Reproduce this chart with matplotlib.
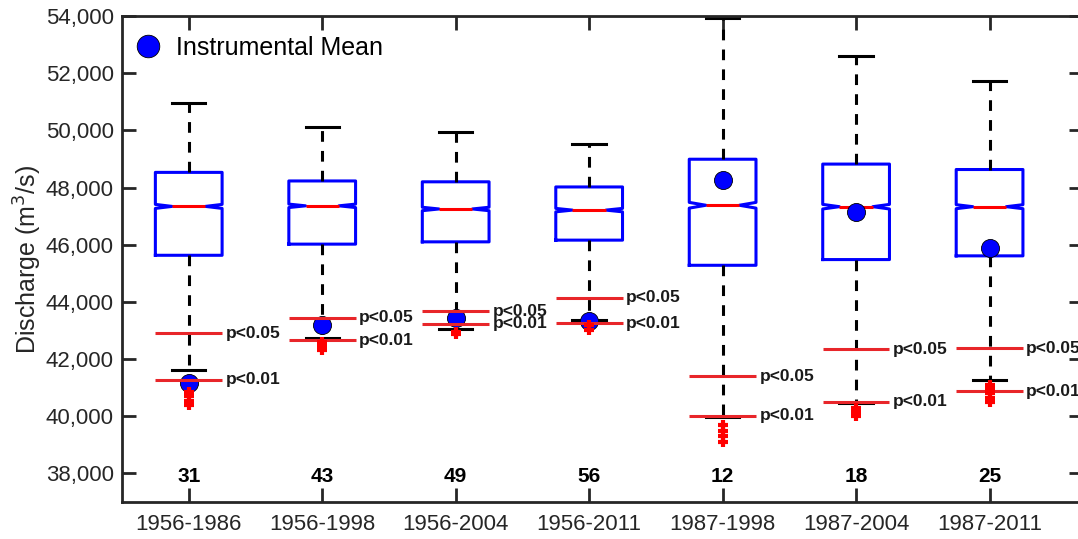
import matplotlib
matplotlib.use("Agg")
import matplotlib.pyplot as plt
from matplotlib.ticker import FuncFormatter

plt.rcParams['font.family'] = ['Liberation Sans', 'DejaVu Sans']

periods = ["1956-1986", "1956-1998", "1956-2004", "1956-2011",
           "1987-1998", "1987-2004", "1987-2011"]
n_years = [31, 43, 49, 56, 12, 18, 25]

whislo = [41600, 42720, 43040, 43380, 39970, 40450, 41280]
q1 = [45630, 46020, 46100, 46160, 45280, 45480, 45610]
med = [47340, 47360, 47250, 47210, 47380, 47330, 47330]
q3 = [48530, 48230, 48200, 48020, 48990, 48820, 48630]
whishi = [50950, 50100, 49930, 49520, 53930, 52600, 51720]
notch_half = [70, 60, 60, 60, 100, 80, 70]
fliers = [
    [40850, 40700, 40550, 40400],
    [42600, 42450, 42300],
    [42950, 42870],
    [43180, 43020],
    [39700, 39500, 39300, 39100],
    [40300, 40150, 40000],
    [41100, 40950, 40800, 40650, 40500],
]
inst_mean = [41170, 43180, 43420, 43330, 48260, 47150, 45900]
p05 = [42910, 43440, 43670, 44150, 41400, 42340, 42370]
p01 = [41280, 42660, 43240, 43260, 40020, 40500, 40870]

fig = plt.figure(figsize=(10.78, 5.39), dpi=100)
ax = fig.add_axes([122/1078, 37/539, 961/1078, 486/539])

positions = list(range(1, len(periods) + 1))
stats = []
for i in range(len(periods)):
    stats.append(dict(med=med[i], q1=q1[i], q3=q3[i], whislo=whislo[i],
                      whishi=whishi[i], cilo=med[i] - notch_half[i],
                      cihi=med[i] + notch_half[i], fliers=fliers[i],
                      mean=inst_mean[i], label=periods[i]))

ax.bxp(stats, positions=positions, widths=0.5, shownotches=True, showfliers=False,
       boxprops=dict(color='blue', linewidth=2.2),
       medianprops=dict(color='red', linewidth=2.2),
       whiskerprops=dict(color='black', linewidth=2.2, linestyle=(0, (3.5, 3))),
       capprops=dict(color='black', linewidth=2.2))

ax.plot(positions, inst_mean, linestyle='none', marker='o', markersize=13,
        markerfacecolor='blue', markeredgecolor='black', markeredgewidth=0.6,
        label='Instrumental Mean', zorder=3)

for i, x in enumerate(positions):
    ax.hlines(p05[i], x - 0.25, x + 0.25, color='#e8262a', linewidth=2.2, zorder=4)
    ax.hlines(p01[i], x - 0.25, x + 0.25, color='#e8262a', linewidth=2.2, zorder=4)
    ax.text(x + 0.275, p05[i], "p<0.05", fontsize=12.5, fontweight='bold',
            va='center', ha='left', color='#1a1a1a', zorder=5)
    ax.text(x + 0.275, p01[i], "p<0.01", fontsize=12.5, fontweight='bold',
            va='center', ha='left', color='#1a1a1a', zorder=5)
    ax.text(x, 37880, str(n_years[i]), fontsize=15, fontweight='bold',
            ha='center', va='center', color='black')

for i, x in enumerate(positions):
    ax.plot([x] * len(fliers[i]), fliers[i], linestyle='none', marker='+',
            markeredgecolor='red', markersize=7, markeredgewidth=3, zorder=6)

ax.set_xlim(0.5, 7.7)
ax.set_ylim(37000, 54000)
ax.set_xticks(positions)
ax.set_xticklabels(periods)
ax.set_yticks(range(38000, 54001, 2000))
ax.yaxis.set_major_formatter(FuncFormatter(lambda v, p: f"{int(v):,}"))
ax.tick_params(direction='in', length=10, width=2, colors='#262626',
               labelsize=16, top=True, right=True, labelcolor='#262626')
ax.tick_params(axis='x', pad=9)
ax.tick_params(axis='y', pad=6)
for s in ax.spines.values():
    s.set_linewidth(2)
    s.set_color('#262626')
ax.set_ylabel("Discharge (m$^3$/s)", fontsize=18, color='#262626', labelpad=1)

ax.legend(loc='upper left', bbox_to_anchor=(0, 0.988), frameon=False,
          fontsize=18, handletextpad=0.6, borderaxespad=0.15,
          handlelength=1.0, markerscale=1.25)

fig.savefig("out.png", dpi=100)
